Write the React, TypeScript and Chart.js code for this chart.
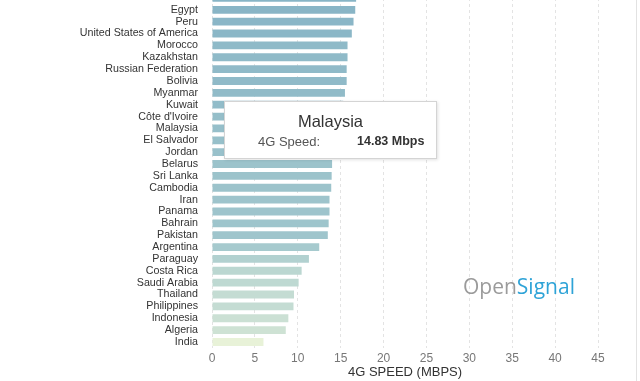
import React, { useEffect, useRef } from "react";
import { Chart, registerables } from "chart.js";

Chart.register(...registerables);

// ---- data ----
const countries: string[] = [
  "",
  "Egypt",
  "Peru",
  "United States of America",
  "Morocco",
  "Kazakhstan",
  "Russian Federation",
  "Bolivia",
  "Myanmar",
  "Kuwait",
  "Côte d'Ivoire",
  "Malaysia",
  "El Salvador",
  "Jordan",
  "Belarus",
  "Sri Lanka",
  "Cambodia",
  "Iran",
  "Panama",
  "Bahrain",
  "Pakistan",
  "Argentina",
  "Paraguay",
  "Costa Rica",
  "Saudi Arabia",
  "Thailand",
  "Philippines",
  "Indonesia",
  "Algeria",
  "India",
];

const speeds: number[] = [
  16.8, 16.7, 16.5, 16.3, 15.8, 15.8, 15.7, 15.7, 15.5, 15.3, 15.0, 14.83,
  14.6, 14.3, 14.0, 13.95, 13.9, 13.7, 13.7, 13.6, 13.5, 12.5, 11.3, 10.45,
  10.1, 9.56, 9.5, 8.9, 8.6, 6.0,
];

const xMin = 0;
const xMax = 45;
const xStep = 5;
const axisTitle = "4G SPEED (MBPS)";
const tooltipCountry = "Malaysia";
const tooltipLabel = "4G Speed:";
const unit = "Mbps";

// colour ramp (low -> high)
const rampLow = [232, 242, 216];
const rampMid = [166, 202, 206];
const rampHigh = [136, 181, 198];

function colourFor(v: number): string {
  const lo = 6, mid = 12.5, hi = 16.8;
  let a: number[], b: number[], t: number;
  if (v <= mid) {
    a = rampLow; b = rampMid; t = (v - lo) / (mid - lo);
  } else {
    a = rampMid; b = rampHigh; t = (v - mid) / (hi - mid);
  }
  t = Math.max(0, Math.min(1, t));
  const c = a.map((x, i) => Math.round(x + (b[i] - x) * t));
  return `rgb(${c[0]},${c[1]},${c[2]})`;
}

const FONT = "'Liberation Sans', Arial, Helvetica, sans-serif";

export default function App() {
  const canvasRef = useRef<HTMLCanvasElement | null>(null);
  const tipRef = useRef<HTMLDivElement | null>(null);
  const tipTitleRef = useRef<HTMLDivElement | null>(null);
  const tipValueRef = useRef<HTMLSpanElement | null>(null);

  useEffect(() => {
    const canvas = canvasRef.current;
    if (!canvas) return;
    const colours = speeds.map(colourFor);

    const chart = new Chart(canvas, {
      type: "bar",
      data: {
        labels: countries,
        datasets: [
          {
            data: speeds,
            backgroundColor: colours,
            hoverBackgroundColor: colours,
            borderWidth: 0,
            categoryPercentage: 1,
            barPercentage: 0.66,
          },
        ],
      },
      options: {
        indexAxis: "y",
        responsive: false,
        animation: false,
        events: [],
        layout: { padding: { top: 0, right: 42, bottom: 13.3, left: 0 } },
        plugins: {
          legend: { display: false },
          tooltip: {
            enabled: false,
            external: (ctx: any) => {
              const { tooltip } = ctx;
              const el = tipRef.current;
              if (!el) return;
              if (tooltip.opacity === 0 || !tooltip.dataPoints || !tooltip.dataPoints.length) {
                el.style.display = "none";
                return;
              }
              const dp = tooltip.dataPoints[0];
              const idx = dp.dataIndex;
              if (tipTitleRef.current) tipTitleRef.current.textContent = countries[idx];
              if (tipValueRef.current)
                tipValueRef.current.textContent = `${speeds[idx].toFixed(2)} ${unit}`;
              el.style.display = "block";
              el.style.left = `${ctx.chart.chartArea.left + 12}px`;
              el.style.top = `${tooltip.caretY - 27}px`;
            },
          },
        },
        scales: {
          x: {
            type: "linear",
            min: xMin,
            max: xMax,
            position: "bottom",
            ticks: {
              stepSize: xStep,
              color: "#777",
              font: { family: FONT, size: 12 },
              padding: 3.7,
            },
            grid: {
              color: "#e3e3e3",
              drawTicks: false,
              lineWidth: 1,
            },
            border: { display: false, dash: [3, 3] },
            title: { display: false },
          },
          y: {
            type: "category",
            ticks: {
              color: "#333",
              font: { family: FONT, size: 10.7 },
              padding: 14,
              autoSkip: false,
            },
            grid: { display: false, drawTicks: false },
            border: { display: false },
            afterFit: (scale: any) => {
              scale.width = 212;
              scale.paddingTop = 0;
              scale.paddingBottom = 0;
            },
          },
        },
      },
    });

    const idx = countries.indexOf(tooltipCountry);
    const bar: any = chart.getDatasetMeta(0).data[idx];
    chart.tooltip?.setActiveElements([{ datasetIndex: 0, index: idx }], { x: bar.x, y: bar.y });
    chart.update();

    return () => {
      chart.destroy();
    };
  }, []);

  return (
    <div
      style={{
        position: "fixed",
        left: 0,
        top: 0,
        width: 640,
        height: 381,
        overflow: "hidden",
        background: "#fff",
        fontFamily: FONT,
      }}
    >
      <div style={{ position: "absolute", left: 0, top: -8, width: 640, height: 391 }}>
        <canvas ref={canvasRef} width={640} height={391} style={{ display: "block" }} />
        <div
          ref={tipRef}
          style={{
            display: "none",
            position: "absolute",
            width: 213,
            height: 58,
            boxSizing: "border-box",
            background: "#fff",
            border: "1px solid #d4d4d4",
            boxShadow: "1px 1px 3px rgba(0,0,0,0.12)",
            fontFamily: FONT,
          }}
        >
          <div
            ref={tipTitleRef}
            style={{
              position: "absolute",
              left: 0,
              top: 9,
              width: "100%",
              textAlign: "center",
              fontSize: 16.5,
              lineHeight: "20px",
              color: "#333",
            }}
          />
          <div
            style={{
              position: "absolute",
              left: 33,
              top: 31,
              fontSize: 13,
              lineHeight: "17px",
              color: "#555",
              whiteSpace: "nowrap",
            }}
          >
            {tooltipLabel}
          </div>
          <span
            ref={tipValueRef}
            style={{
              position: "absolute",
              left: 132,
              top: 31,
              fontSize: 12.5,
              lineHeight: "17px",
              fontWeight: "bold",
              color: "#333",
              whiteSpace: "nowrap",
            }}
          />
        </div>
      </div>
      <div
        style={{
          position: "absolute",
          left: 212,
          top: 363.6,
          width: 386,
          textAlign: "center",
          fontFamily: FONT,
          fontSize: 13,
          lineHeight: "15px",
          color: "#333",
          whiteSpace: "nowrap",
        }}
      >
        {axisTitle}
      </div>
      <div
        style={{
          position: "absolute",
          left: 463,
          top: 276,
          fontFamily: "'Open Sans', sans-serif",
          fontSize: 21,
          lineHeight: "21px",
          whiteSpace: "nowrap",
        }}
      >
        <span style={{ color: "#9b9b9b" }}>Open</span>
        <span style={{ color: "#2ea3d7" }}>Signal</span>
      </div>
      <div
        style={{
          position: "absolute",
          left: 636,
          top: 0,
          width: 1,
          height: 381,
          background: "#e2e2e2",
        }}
      />
    </div>
  );
}
